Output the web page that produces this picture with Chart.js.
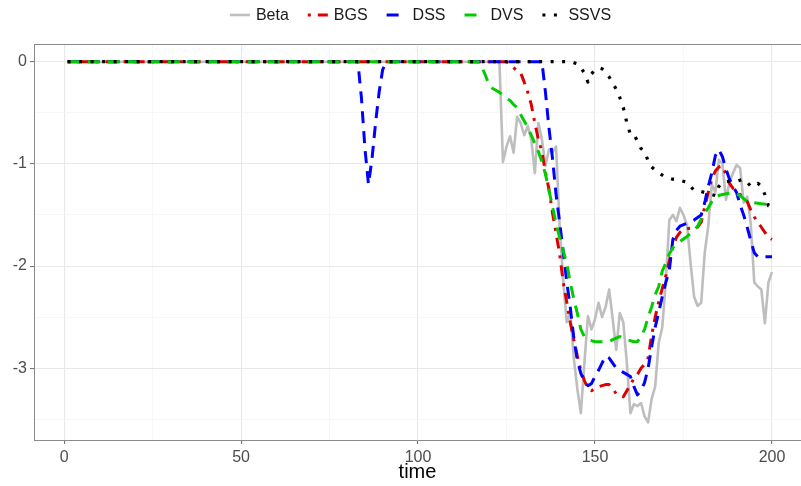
<!DOCTYPE html>
<html>
<head>
    <title>time series</title>
    <style>
        body { margin: 0; background: #ffffff; }
        #chart { display: block; }
    </style>
</head>
<body>
    <canvas id="chart" width="801" height="486"></canvas>
    <script src="https://cdn.jsdelivr.net/npm/chart.js"></script>
    <script>
    // [time, value] pairs
    const seriesNames = ['Beta', 'BGS', 'DSS', 'DVS', 'SSVS'];
    const xTicks = [0, 50, 100, 150, 200];
    const yTicks = [0, -1, -2, -3];

    const beta = [[1,0],[123,0],[124,-0.98],[125,-0.83],[126,-0.73],[127,-0.89],[128,-0.54],[129,-0.6],[130,-0.72],
        [131,-0.63],[132,-0.76],[133,-1.09],[134,-0.6],[135,-0.76],[136,-1.02],[137,-0.86],[138,-0.89],[139,-0.83],
        [140,-1.6],[141,-2.13],[142,-2.55],[143,-2.45],[144,-2.9],[145,-3.2],[146,-3.44],[147,-2.95],[148,-2.49],
        [149,-2.62],[150,-2.52],[151,-2.36],[152,-2.5],[153,-2.4],[154,-2.23],[155,-2.52],[156,-2.82],[157,-2.46],
        [158,-2.55],[159,-2.95],[160,-3.44],[161,-3.35],[162,-3.37],[163,-3.34],[164,-3.47],[165,-3.53],[166,-3.3],
        [167,-3.18],[168,-2.75],[169,-2.6],[170,-2.16],[171,-1.55],[172,-1.5],[173,-1.56],[174,-1.43],[175,-1.5],
        [176,-1.6],[177,-1.97],[178,-2.3],[179,-2.39],[180,-2.36],[181,-1.87],[182,-1.61],[183,-1.2],[184,-1.28],
        [185,-0.96],[186,-1.0],[187,-1.35],[188,-1.18],[189,-1.09],[190,-1.01],[191,-1.04],[192,-1.38],[193,-1.32],
        [194,-1.58],[195,-2.16],[196,-2.2],[197,-2.23],[198,-2.56],[199,-2.16],[200,-2.06]];

    const bgs = [[1,0],[125,0],[127,-0.06],[129,-0.11],[130,-0.2],[131,-0.3],[132,-0.42],[133,-0.6],[134,-0.76],
        [135,-0.88],[136,-1.08],[137,-1.25],[138,-1.48],[139,-1.68],[140,-1.88],[141,-2.15],[142,-2.35],[143,-2.55],
        [144,-2.72],[145,-2.88],[146,-3.02],[147,-3.12],[148,-3.2],[149,-3.22],[150,-3.2],[151,-3.18],[152,-3.17],
        [153,-3.16],[154,-3.16],[155,-3.2],[156,-3.25],[157,-3.27],[158,-3.28],[159,-3.22],[160,-3.16],[161,-3.1],
        [162,-3.06],[163,-3.0],[164,-2.96],[165,-2.9],[166,-2.68],[167,-2.5],[168,-2.35],[169,-2.22],[170,-2.1],
        [171,-1.95],[172,-1.81],[173,-1.72],[174,-1.67],[175,-1.64],[177,-1.63],[179,-1.62],[180,-1.57],[181,-1.42],
        [182,-1.28],[183,-1.15],[184,-1.07],[185,-1.03],[186,-1.02],[187,-1.1],[188,-1.19],[189,-1.24],[190,-1.27],
        [191,-1.3],[192,-1.34],[193,-1.37],[194,-1.45],[195,-1.52],[196,-1.57],[197,-1.62],[198,-1.67],[199,-1.72],
        [200,-1.74]];

    const dss = [[1,0],[83,0],[84,-0.35],[85,-0.85],[86,-1.2],[87,-0.95],[88,-0.6],[89,-0.3],[90,-0.08],[91,0],
        [135,0],[136,-0.3],[137,-0.65],[138,-0.95],[139,-1.3],[140,-1.57],[141,-1.85],[142,-2.15],[143,-2.4],
        [144,-2.7],[145,-2.92],[146,-3.05],[147,-3.13],[148,-3.17],[149,-3.15],[150,-3.08],[151,-3.02],[152,-2.95],
        [153,-2.88],[154,-2.9],[155,-2.95],[156,-3.0],[157,-3.02],[158,-3.04],[159,-3.06],[160,-3.08],[161,-3.18],
        [162,-3.26],[163,-3.22],[164,-3.14],[165,-3.0],[166,-2.79],[167,-2.6],[168,-2.45],[169,-2.3],[170,-2.16],
        [171,-2.04],[172,-1.74],[173,-1.65],[174,-1.61],[176,-1.58],[178,-1.55],[180,-1.5],[181,-1.38],[182,-1.22],
        [183,-1.09],[184,-0.92],[185,-0.86],[186,-0.93],[187,-1.05],[188,-1.15],[189,-1.22],[190,-1.28],[191,-1.4],
        [192,-1.5],[193,-1.62],[194,-1.75],[195,-1.87],[196,-1.91],[200,-1.91]];

    const dvs = [[1,0],[117,0],[118,-0.05],[119,-0.13],[120,-0.22],[121,-0.26],[122,-0.28],[123,-0.3],[124,-0.33],
        [125,-0.36],[126,-0.38],[127,-0.42],[128,-0.45],[129,-0.52],[130,-0.58],[131,-0.64],[132,-0.72],[133,-0.8],
        [134,-0.88],[135,-0.98],[136,-1.1],[137,-1.26],[138,-1.42],[139,-1.58],[140,-1.72],[141,-1.85],[142,-1.97],
        [143,-2.16],[144,-2.32],[145,-2.46],[146,-2.62],[147,-2.69],[148,-2.72],[149,-2.73],[150,-2.74],[152,-2.74],
        [154,-2.74],[155,-2.72],[157,-2.69],[159,-2.72],[161,-2.74],[162,-2.74],[163,-2.69],[164,-2.62],[165,-2.5],
        [166,-2.4],[167,-2.28],[168,-2.2],[169,-2.05],[170,-1.97],[171,-1.88],[172,-1.82],[173,-1.79],[174,-1.76],
        [176,-1.71],[178,-1.65],[179,-1.61],[180,-1.54],[181,-1.48],[182,-1.43],[183,-1.37],[184,-1.32],[186,-1.3],
        [189,-1.28],[191,-1.31],[193,-1.37],[195,-1.38],[197,-1.39],[200,-1.4]];

    const ssvs = [[1,0],[143,0],[145,-0.02],[146,-0.06],[147,-0.11],[148,-0.2],[149,-0.12],[150,-0.08],[151,-0.06],
        [152,-0.07],[153,-0.1],[154,-0.15],[155,-0.21],[156,-0.27],[157,-0.35],[158,-0.45],[159,-0.6],[160,-0.71],
        [161,-0.71],[162,-0.78],[163,-0.85],[164,-0.88],[165,-0.97],[166,-1.03],[167,-1.06],[168,-1.09],[170,-1.13],
        [172,-1.15],[174,-1.16],[176,-1.18],[177,-1.22],[178,-1.26],[180,-1.27],[182,-1.29],[184,-1.31],[185,-1.22],
        [186,-1.18],[188,-1.17],[190,-1.17],[192,-1.15],[193,-1.18],[194,-1.22],[195,-1.21],[196,-1.19],[197,-1.22],
        [198,-1.3],[199,-1.41],[200,-1.42]];

    const FONT = '"Liberation Sans", Arial, sans-serif';
    const toXY = pairs => pairs.map(p => ({ x: p[0], y: p[1] }));

    function makeSet(i, pairs, color, width, dash, order) {
        return {
            label: seriesNames[i], data: toXY(pairs),
            borderColor: color, backgroundColor: color, borderWidth: width, borderDash: dash,
            borderCapStyle: 'butt', borderJoinStyle: 'round',
            pointRadius: 0, tension: 0, fill: false, order: order
        };
    }

    // ggplot-like legend above the panel
    const topLegend = {
        id: 'topLegend',
        afterDraw(chart) {
            const ctx = chart.ctx;
            const sets = chart.data.datasets;
            ctx.save();
            ctx.font = '16px ' + FONT;
            const keyW = 20, gap = 6, spacing = 19;
            let total = 0;
            sets.forEach((ds, i) => {
                total += keyW + gap + ctx.measureText(ds.label).width + (i < sets.length - 1 ? spacing : 0);
            });
            const area = chart.chartArea;
            let x = (area.left + area.right) / 2 + 3 - total / 2;
            const y = 15;
            sets.forEach(ds => {
                ctx.beginPath();
                ctx.strokeStyle = ds.borderColor;
                ctx.lineWidth = ds.borderWidth;
                ctx.setLineDash(ds.borderDash || []);
                ctx.lineCap = 'butt';
                ctx.moveTo(x, y);
                ctx.lineTo(x + keyW, y);
                ctx.stroke();
                ctx.setLineDash([]);
                ctx.fillStyle = '#1a1a1a';
                ctx.textBaseline = 'middle';
                ctx.textAlign = 'left';
                ctx.fillText(ds.label, x + keyW + gap, y + 1);
                x += keyW + gap + ctx.measureText(ds.label).width + spacing;
            });
            ctx.restore();
        }
    };

    // top edge of the panel border
    const panelTop = {
        id: 'panelTop',
        afterDatasetsDraw(chart) {
            const a = chart.chartArea, ctx = chart.ctx;
            ctx.save();
            ctx.strokeStyle = '#8a8a8a';
            ctx.lineWidth = 1;
            ctx.beginPath();
            ctx.moveTo(a.left, a.top + 0.5);
            ctx.lineTo(a.right, a.top + 0.5);
            ctx.stroke();
            ctx.restore();
        }
    };

    const isMajorX = v => xTicks.includes(v);
    const isMajorY = v => yTicks.some(t => Math.abs(t - v) < 1e-6);

    new Chart(document.getElementById('chart').getContext('2d'), {
        type: 'line',
        data: {
            datasets: [
                makeSet(0, beta, '#bebebe', 2.6, [], 5),
                makeSet(1, bgs, '#dd0000', 3, [3, 7, 11, 7], 4),
                makeSet(2, dss, '#0000ff', 3, [12, 8], 3),
                makeSet(3, dvs, '#00cc00', 3, [12, 8], 2),
                makeSet(4, ssvs, '#000000', 3.2, [3, 8.5], 1)
            ]
        },
        options: {
            responsive: false,
            devicePixelRatio: 1,
            animation: false,
            layout: { padding: { top: 44, right: 0, left: 0, bottom: 0 } },
            plugins: { legend: { display: false }, tooltip: { enabled: false } },
            scales: {
                x: {
                    type: 'linear', min: -8.5, max: 208.2,
                    afterFit: s => { s.height = 46; },
                    ticks: {
                        stepSize: 25, includeBounds: false, autoSkip: false, maxRotation: 0,
                        padding: 4, color: '#4d4d4d', font: { family: FONT, size: 16 },
                        callback: v => isMajorX(v) ? String(v) : ''
                    },
                    grid: {
                        color: c => isMajorX(c.tick.value) ? '#e8e8e8' : '#f3f3f3',
                        lineWidth: c => isMajorX(c.tick.value) ? 1.1 : 0.7,
                        tickColor: c => isMajorX(c.tick.value) ? '#777777' : 'rgba(0,0,0,0)',
                        tickLength: 4
                    },
                    border: { display: true, color: '#8a8a8a', width: 1 },
                    title: {
                        display: true, text: 'time', color: '#000000',
                        font: { family: FONT, size: 20 }, padding: { top: 0, bottom: 2 }
                    }
                },
                y: {
                    type: 'linear', min: -3.702, max: 0.173,
                    afterFit: s => { s.width = 34; },
                    ticks: {
                        stepSize: 0.5, includeBounds: false, autoSkip: false,
                        padding: 3, color: '#4d4d4d', font: { family: FONT, size: 16 },
                        callback: v => isMajorY(v) ? String(Math.round(v)) : ''
                    },
                    grid: {
                        color: c => isMajorY(c.tick.value) ? '#e8e8e8' : '#f3f3f3',
                        lineWidth: c => isMajorY(c.tick.value) ? 1.1 : 0.7,
                        tickColor: c => isMajorY(c.tick.value) ? '#777777' : 'rgba(0,0,0,0)',
                        tickLength: 4
                    },
                    border: { display: true, color: '#8a8a8a', width: 1 }
                }
            }
        },
        plugins: [panelTop, topLegend]
    });
    </script>
</body>
</html>
